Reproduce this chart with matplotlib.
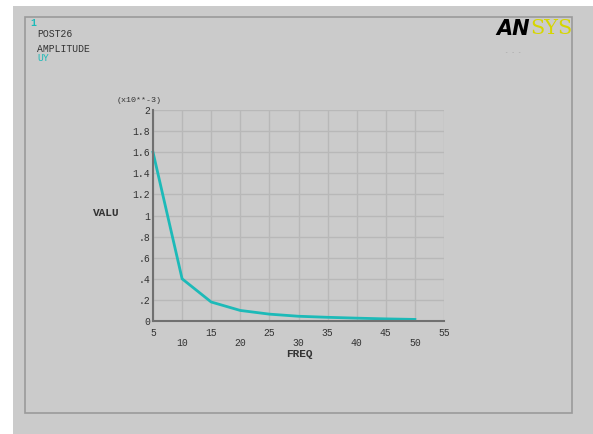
import numpy as np
import matplotlib.pyplot as plt
from matplotlib.patches import Rectangle

# POST26 amplitude of UY against frequency (values x10**-3)
freq = [5, 10, 15, 20, 25, 30, 35, 40, 45, 50]
valu = [1.6, 0.4, 0.18, 0.10, 0.065, 0.045, 0.035, 0.027, 0.02, 0.015]
xticks = [5, 10, 15, 20, 25, 30, 35, 40, 45, 50, 55]
yticks = [0, 0.2, 0.4, 0.6, 0.8, 1.0, 1.2, 1.4, 1.6, 1.8, 2.0]
ylabels = ['0', '.2', '.4', '.6', '.8', '1', '1.2', '1.4', '1.6', '1.8', '2']

W, H = 593, 434
mono = 'Liberation Mono'
bg = '#cbcbcb'
txt = '#333333'
cyan = '#1dbab8'


def fx(px):
    return px / W


def fy(py):
    return 1 - py / H


fig = plt.figure(figsize=(W / 100, H / 100), dpi=100)
fig.patch.set_facecolor('white')

# gray window and inner frame, drawn in a background axes
back = fig.add_axes([0, 0, 1, 1], zorder=-10)
back.set_xlim(0, W)
back.set_ylim(H, 0)
back.axis('off')
back.add_patch(Rectangle((13, 6), W - 13, H - 6, facecolor=bg, edgecolor='none'))
back.add_patch(Rectangle((25, 17), 572 - 25, 413 - 17, facecolor='none',
                         edgecolor='#9a9a9a', lw=1.2))

ax = fig.add_axes([fx(153), fy(321), fx(444) - fx(153), fy(110) - fy(321)])
ax.set_facecolor('none')
ax.plot(freq, valu, color=cyan, lw=2, zorder=3, clip_on=False)
ax.set_xlim(5, 55)
ax.set_ylim(0, 2)
ax.set_xticks(xticks)
ax.set_yticks(yticks)
ax.set_yticklabels(ylabels, family=mono, fontsize=7, color=txt)
ax.set_xticklabels([])
ax.tick_params(length=0, pad=2)
ax.grid(True, color='#b8b8b8', lw=1)
for s in ['top', 'right']:
    ax.spines[s].set_visible(False)
for s in ['left', 'bottom']:
    ax.spines[s].set_color('#707070')
    ax.spines[s].set_linewidth(1.5)
    ax.spines[s].set_zorder(4)

# staggered x tick labels
for i, t in enumerate(xticks):
    dy = -9 if i % 2 == 0 else -16
    ax.annotate(str(t), (t, 0), xytext=(0, dy), textcoords='offset points',
                ha='center', va='center', family=mono, fontsize=7, color=txt)

fig.text(fx(299), fy(354), 'FREQ', family=mono, fontsize=8, weight='bold',
         color=txt, ha='center', va='center')
fig.text(fx(93), fy(213), 'VALU', family=mono, fontsize=8, weight='bold',
         color=txt, ha='left', va='center')
fig.text(fx(117), fy(100), '(x10**-3)', family=mono, fontsize=6, color=txt,
         ha='left', va='center')

fig.text(fx(30), fy(23), '1', family=mono, fontsize=7, weight='bold', color=cyan,
         ha='left', va='center')
fig.text(fx(37), fy(34), 'POST26', family=mono, fontsize=7, color=txt,
         ha='left', va='center')
fig.text(fx(37), fy(49), 'AMPLITUDE', family=mono, fontsize=7, color=txt,
         ha='left', va='center')
fig.text(fx(37), fy(58), 'UY', family=mono, fontsize=7, color=cyan,
         ha='left', va='center')

fig.text(fx(496), fy(29), 'AN', family='DejaVu Sans', fontsize=15, weight='bold',
         style='italic', color='black', ha='left', va='center')
fig.text(fx(530), fy(29), 'SYS', family='DejaVu Serif', fontsize=15,
         color='#d6d600', ha='left', va='center')
fig.text(fx(505), fy(52), '- - -', family=mono, fontsize=4, color='#999999',
         ha='left', va='center')

fig.savefig('out.png', dpi=100, facecolor=fig.get_facecolor())
